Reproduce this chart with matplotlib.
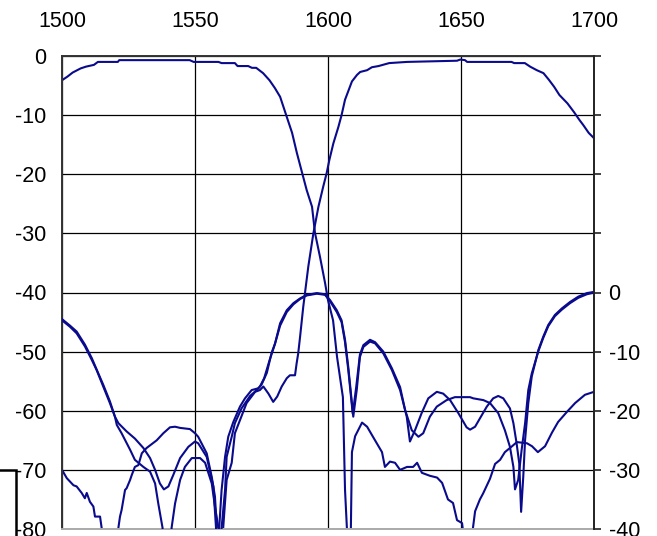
import numpy as np
import matplotlib
matplotlib.use("Agg")
import matplotlib.pyplot as plt
from matplotlib.patches import Rectangle

plt.rcParams["font.family"] = ["Liberation Sans", "DejaVu Sans"]

# wavelength (nm), dB -- channel 1 transmission, left axis
ch1_trans = [
    (1500, -4.1), (1502, -3.5), (1504, -2.8), (1507, -2.1), (1509, -1.8), (1512, -1.5),
    (1513.5, -1.0), (1521, -1.0), (1521.5, -0.7), (1548, -0.7), (1549.5, -1.0), (1558.8, -1.0),
    (1560, -1.2), (1565, -1.2), (1566, -1.7), (1570, -1.7), (1571.4, -2.0), (1573, -2.0),
    (1575.6, -2.9), (1578, -4.1), (1580, -5.4), (1582, -6.9), (1584.5, -10.3), (1586.5, -13.0),
    (1588.3, -16.4), (1590, -19.3), (1592, -22.7), (1594, -25.5), (1595.1, -29.9), (1597, -34.0),
    (1598.9, -38.4), (1600, -41.3), (1601.9, -44.7), (1603.4, -50.9), (1605.6, -57.7),
    (1606.4, -73.4), (1607.1, -79.8), (1607.6, -90), (1608.2, -90), (1608.6, -79.8),
    (1609, -67.0), (1610.2, -64.3), (1612.8, -62.0), (1614.7, -62.7), (1616.9, -64.4),
    (1620.3, -67.0), (1621.4, -69.5), (1623.3, -68.6), (1625.2, -68.8), (1627.1, -70.0),
    (1629.7, -69.5), (1632, -69.5), (1633.5, -68.8), (1635.3, -70.5), (1638.3, -71.0),
    (1641, -71.3), (1642.9, -72.2), (1645.1, -75.0), (1647, -75.6), (1648.5, -78.5),
    (1650.4, -79.0), (1650.8, -80.5), (1651.5, -90), (1654, -90), (1654.5, -79.8),
    (1655.3, -77.0), (1657.1, -75.0), (1658.3, -74.0), (1660.9, -71.5), (1662.8, -69.0),
    (1664.7, -68.3), (1666.5, -67.0), (1669.2, -66.0), (1671, -65.3), (1674.8, -65.5),
    (1676.7, -66.0), (1678.9, -67.0), (1681.6, -66.0), (1684.2, -63.7), (1686.5, -61.9),
    (1689.8, -60.2), (1692.9, -58.7), (1696.6, -57.3), (1700, -56.8),
]

# channel 2 transmission, left axis
ch2_trans = [
    (1500, -70.0), (1501.8, -71.4), (1504.3, -72.6), (1505.5, -72.8), (1507.4, -73.9),
    (1508.6, -74.8), (1509.3, -73.9), (1510.5, -75.4), (1511.8, -76.2), (1512.4, -77.9),
    (1514.3, -77.9), (1514.9, -79.8), (1515.5, -90), (1520.5, -90), (1521.2, -79.8),
    (1521.8, -77.9), (1522.4, -76.8), (1523.7, -73.4), (1524.3, -73.1), (1525.6, -71.7),
    (1526.2, -70.9), (1527.4, -69.5), (1528.7, -69.2), (1530, -67.2), (1531.8, -66.3),
    (1535.6, -65.0), (1538.1, -63.8), (1540.6, -62.8), (1542.5, -62.7), (1544.4, -62.9),
    (1548.1, -63.1), (1550, -63.8), (1551.2, -64.4), (1554.4, -67.2), (1556.3, -71.2),
    (1557.5, -74.5), (1558.2, -79.8), (1558.8, -90), (1560.2, -90), (1560.6, -79.8),
    (1561.9, -71.7), (1563.8, -68.8), (1565, -63.8), (1566.9, -61.6), (1569.4, -58.7),
    (1572.6, -56.8), (1574.4, -56.5), (1575.7, -55.9), (1577.6, -57.1), (1579.4, -58.5),
    (1580.9, -57.6), (1582.6, -55.9), (1584.5, -54.5), (1585.7, -54.0), (1587.6, -54.0),
    (1588.2, -52.0), (1588.8, -50.3), (1589.5, -47.5), (1590.7, -42.4), (1592.6, -35.6),
    (1594.5, -30.0), (1596.4, -25.5), (1598.2, -22.1), (1599.5, -19.8), (1600.5, -17.6),
    (1602, -14.8), (1603.9, -12.0), (1605.1, -10.0), (1606.4, -7.4), (1609, -4.3),
    (1610.9, -3.2), (1612.1, -2.7), (1614.7, -2.4), (1616.5, -1.9), (1619, -1.7),
    (1623, -1.2), (1629.7, -1.0), (1648.5, -0.8), (1649.7, -0.6), (1651.5, -0.7),
    (1652.3, -1.0), (1669, -1.0), (1670, -1.2), (1674, -1.2), (1676, -1.8), (1678.5, -2.4),
    (1681, -2.9), (1683, -4.0), (1685, -5.2), (1687, -6.6), (1690, -8.0), (1692.5, -9.5),
    (1694.5, -10.8), (1696, -11.7), (1698, -13.0), (1700, -13.9),
]

# reflection curves, right axis
refl_a = [
    (1500, -4.7), (1503, -5.8), (1505.5, -6.9), (1508.6, -9.1), (1511.2, -11.4), (1513, -13.1),
    (1515.5, -15.9), (1518, -18.7), (1519.9, -21.0), (1521.2, -22.1), (1524.3, -23.5),
    (1527.4, -24.7), (1530.6, -26.3), (1533.1, -28.0), (1535, -30.0), (1536.8, -32.3),
    (1538.3, -33.3), (1540, -32.8), (1541.8, -30.9), (1544.4, -28.0), (1547.5, -26.1),
    (1550, -25.2), (1551.2, -25.5), (1554.4, -27.8), (1556.9, -32.8), (1557.9, -39.8),
    (1558.5, -50), (1558.8, -50), (1559.1, -39.8), (1560, -33.4), (1561.3, -27.8),
    (1562.5, -24.4), (1564.4, -21.9), (1566.9, -19.3), (1568.8, -17.9), (1571.3, -16.5),
    (1573.8, -16.2), (1575, -15.6), (1577, -13.6), (1578.8, -10.2), (1580.1, -8.6),
    (1582, -5.2), (1584.5, -3.0), (1587, -1.8), (1589.5, -1.0), (1592, -0.4), (1595.8, -0.1),
    (1598.9, -0.3), (1600.8, -1.3), (1603.3, -3.0), (1605.1, -4.7), (1606.4, -8.0),
    (1607.6, -12.5), (1608.5, -16.5), (1609.5, -21.0), (1610.8, -16.5), (1612, -10.9),
    (1613.3, -9.2), (1615.8, -8.3), (1617.7, -8.6), (1620.8, -10.3), (1624, -13.1),
    (1627.1, -16.5), (1629.6, -21.0), (1630.8, -25.2), (1632.7, -23.3), (1635.2, -20.4),
    (1637.7, -17.9), (1640.9, -16.8), (1643.3, -17.1), (1645.9, -18.2), (1649, -20.4),
    (1652.1, -22.8), (1653.4, -23.2), (1655.3, -22.7), (1657.1, -21.3), (1659.7, -19.3),
    (1662.1, -17.9), (1664, -17.5), (1665.9, -17.9), (1668.4, -19.6), (1669.7, -22.1),
    (1670.9, -25.5), (1671.9, -28.9), (1672.6, -37.1), (1673.4, -31.2), (1674.1, -24.9),
    (1675.3, -18.7), (1676.6, -14.2), (1679.1, -9.7), (1680.9, -7.5), (1682.8, -5.5),
    (1685.3, -3.8), (1687.9, -2.7), (1691, -1.6), (1694.1, -0.7), (1697.3, -0.1),
    (1700, 0.1),
]

refl_b = [
    (1500, -4.5), (1503, -5.6), (1505.5, -6.6), (1508.6, -8.8), (1511.2, -11.1), (1513, -13.0),
    (1515.5, -15.6), (1518, -18.4), (1519.9, -21.0), (1520.6, -22.4), (1522.4, -23.8),
    (1525.6, -26.6), (1527.4, -28.3), (1530.6, -29.5), (1533.1, -30.3), (1535, -32.3),
    (1536.2, -35.7), (1537.8, -39.8), (1538.3, -50), (1540.8, -50), (1541.2, -39.8),
    (1542.5, -35.7), (1544.4, -31.7), (1546.2, -29.5), (1548.8, -28.0), (1551.9, -28.0),
    (1553.8, -28.8), (1556.3, -32.3), (1557.5, -36.2), (1558.8, -39.8), (1559.2, -50),
    (1559.7, -50), (1560, -39.8), (1561.3, -33.4), (1561.9, -27.8), (1563.8, -24.4),
    (1565, -22.1), (1567.5, -19.6), (1570.7, -17.5), (1573.2, -16.5), (1574.4, -15.9),
    (1576, -14.5), (1578, -11.5), (1580, -8.8), (1582, -5.6), (1584.5, -3.3), (1587, -2.0),
    (1589.5, -1.1), (1592, -0.5), (1595.8, -0.2), (1598.9, -0.4), (1600.8, -1.5),
    (1603.3, -3.3), (1605.1, -5.0), (1606.4, -8.4), (1607.6, -13.0), (1608.5, -17.0),
    (1609.3, -20.5), (1610.6, -16.0), (1612, -10.5), (1613.3, -8.9), (1615.8, -8.0),
    (1617.7, -8.4), (1620.8, -10.0), (1624, -12.8), (1627.1, -16.0), (1629, -19.9),
    (1631.5, -23.3), (1634, -24.4), (1635.8, -23.8), (1638.3, -21.0), (1640.9, -19.3),
    (1644.6, -18.2), (1647.7, -17.7), (1653.4, -17.7), (1654.6, -17.9), (1658.4, -18.2),
    (1660.9, -18.7), (1664, -20.4), (1666.5, -23.3), (1668.4, -26.1), (1669.7, -29.5),
    (1670.3, -33.3), (1671.5, -31.7), (1672.8, -26.6), (1674.1, -22.1), (1675.3, -16.5),
    (1676.6, -13.7), (1679.1, -9.9), (1680.9, -7.7), (1682.8, -5.7), (1685.3, -4.0),
    (1687.9, -2.9), (1691, -1.8), (1694.1, -0.9), (1697.3, -0.3), (1700, 0.0),
]

x_ticks = [1500, 1550, 1600, 1650, 1700]
left_ticks = [0, -10, -20, -30, -40, -50, -60, -70, -80]
right_ticks = [40, 30, 20, 10, 0, -10, -20, -30, -40]
right_labels = ["", "", "", "", "0", "-10", "-20", "-30", "-40"]

line_color = "#0a0a8c"
fs = 15.5

fig = plt.figure(figsize=(6.57, 5.36), dpi=100)
ax = fig.add_axes([62 / 657, 1 - 529 / 536, 532 / 657, 473 / 536])
ax2 = ax.twinx()

for curve in (ch1_trans, ch2_trans):
    arr = np.array(curve)
    ax.plot(arr[:, 0], arr[:, 1], color=line_color, lw=1.5)
for curve in (refl_a, refl_b):
    arr = np.array(curve)
    ax2.plot(arr[:, 0], arr[:, 1], color=line_color, lw=1.5)

ax.set_xlim(1500, 1700)
ax.set_ylim(-80, 0)
ax2.set_ylim(-40, 40)

ax.xaxis.tick_top()
ax.set_xticks(x_ticks)
ax.set_xticklabels([str(v) for v in x_ticks], fontsize=fs)
ax.set_yticks(left_ticks)
ax.set_yticklabels([str(v) for v in left_ticks], fontsize=fs)
ax.tick_params(axis="x", length=0, pad=17)
ax.tick_params(axis="y", length=0, pad=11)
ax2.set_yticks(right_ticks)
ax2.set_yticklabels(right_labels, fontsize=fs)
ax2.tick_params(axis="y", length=5, width=1.2, pad=5.5, direction="out", color="#222222")

ax.grid(True, color="black", lw=0.9)
ax.set_axisbelow(True)

for sp in ("left", "top"):
    ax.spines[sp].set_color("#333333")
    ax.spines[sp].set_linewidth(1.4)
ax.spines["bottom"].set_color("#aaaaaa")
ax.spines["bottom"].set_linewidth(1.4)
ax.spines["right"].set_visible(False)
ax2.spines["right"].set_color("#222222")
ax2.spines["right"].set_linewidth(1.4)
for sp in ("left", "top", "bottom"):
    ax2.spines[sp].set_visible(False)

# partial legend frame poking in at bottom-left
fig.patches.append(Rectangle((-0.05, -0.05), 0.05 + 16 / 657, 0.05 + 1 - 470 / 536,
                             transform=fig.transFigure, fill=False, ec="black", lw=1.8))

fig.savefig("out.png", dpi=100)
